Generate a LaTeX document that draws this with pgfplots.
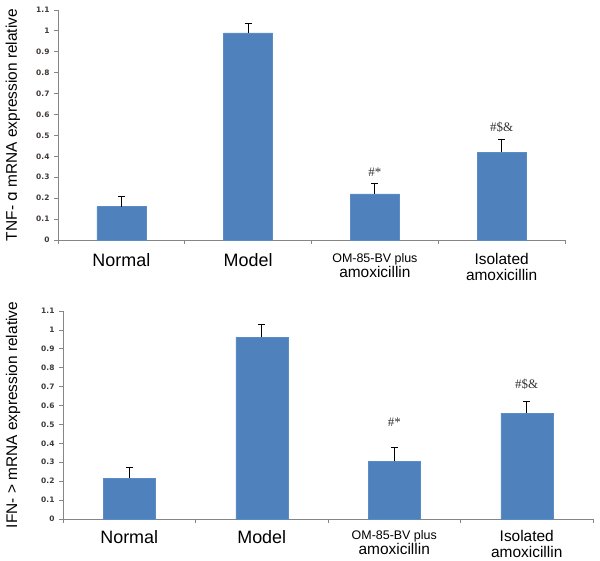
\documentclass[border=0pt]{standalone}
\usepackage{fontspec}
\setmainfont{Liberation Sans}
\newfontfamily\annfont{Liberation Serif}
\newfontfamily\symfont{DejaVu Sans}
\usepackage{pgfplots}
\pgfplotsset{compat=1.18}
\usepackage{pgfplotstable}
\definecolor{barblue}{HTML}{4F81BD}
\definecolor{baredge}{HTML}{5B8CC6}
\definecolor{axgray}{HTML}{868686}
\definecolor{ticktext}{HTML}{3F3A36}

\pgfplotstableread{
x y err
0 0.16 0.05
1 0.99 0.045
2 0.22 0.05
3 0.42 0.06
}\tnfdata
\pgfplotstableread{
x y err
0 0.215 0.06
1 0.96 0.07
2 0.305 0.075
3 0.56 0.06
}\ifndata

\pgfplotsset{
  mystyle/.style={
    scale only axis,
    anchor=south west,
    ymin=0, ymax=1.1,
    xmin=-0.5, xmax=3.5,
    axis x line*=bottom,
    axis y line*=left,
    axis line style={axgray, line width=0.8bp},
    ytick={0,0.1,0.2,0.3,0.4,0.5,0.6,0.7,0.8,0.9,1,1.1},
    yticklabels={0,0.1,0.2,0.3,0.4,0.5,0.6,0.7,0.8,0.9,1,1.1},
    yticklabel style={font=\symfont\fontsize{7.5}{9}\selectfont\bfseries, text=ticktext, xshift=-1bp},
    xtick={0,1,2,3},
    major x tick style={draw=none},
    minor xtick={-0.5,0.5,1.5,2.5,3.5},
    minor x tick style={axgray, line width=0.8bp},
    minor tick length=4bp,
    major tick length=4bp,
    y tick style={axgray, line width=0.8bp},
    tick align=outside,
    xticklabel style={align=center, anchor=north, text=black, font=\fontsize{15.5}{15.5}\selectfont},
    xticklabels={
      {\fontsize{18}{20}\selectfont Normal},
      {\fontsize{18}{20}\selectfont Model},
      {{\fontsize{12.5}{15}\selectfont OM-85-BV plus}\\amoxicillin},
      {Isolated\\amoxicillin}},
    clip=false,
  },
  mybar/.style={
    ybar, fill=barblue, draw=baredge, line width=0.5bp,
    error bars/.cd, y dir=plus, y explicit,
    error bar style={black, line width=0.8bp},
    error mark options={black, rotate=90, mark size=3.5bp, line width=0.8bp},
  }
}

\begin{document}
\begin{tikzpicture}[x=1bp,y=1bp]
\path[use as bounding box] (0,0) rectangle (600,561);

% top chart
\begin{axis}[mystyle,
  at={(58bp,321bp)}, width=507bp, height=230bp,
  xticklabel style={yshift=-6bp},
  ylabel={TNF- {\symfont ɑ} mRNA expression relative},
  every axis y label/.style={at={(axis description cs:-0.089,0.5)}, rotate=90, anchor=center, font=\fontsize{15.5}{17}\selectfont},
]
\addplot[bar width=49bp, mybar] table[x=x, y=y, y error=err]{\tnfdata};
\node[font=\annfont\fontsize{13}{14}\selectfont, text=black!80] at (axis cs:2,0.325) {\#*};
\node[font=\annfont\fontsize{13}{14}\selectfont, text=black!80] at (axis cs:3,0.54) {\#\$\&};
\end{axis}

% bottom chart
\begin{axis}[mystyle,
  at={(63bp,42bp)}, width=530bp, height=208bp,
  xticklabel style={yshift=-4bp},
  ylabel={IFN- > mRNA expression relative},
  every axis y label/.style={at={(axis description cs:-0.094,0.5)}, rotate=90, anchor=center, font=\fontsize{15.5}{17}\selectfont},
]
\addplot[bar width=52bp, mybar] table[x=x, y=y, y error=err]{\ifndata};
\node[font=\annfont\fontsize{13}{14}\selectfont, text=black!80] at (axis cs:2,0.51) {\#*};
\node[font=\annfont\fontsize{13}{14}\selectfont, text=black!80] at (axis cs:3,0.71) {\#\$\&};
\end{axis}
\end{tikzpicture}
\end{document}
